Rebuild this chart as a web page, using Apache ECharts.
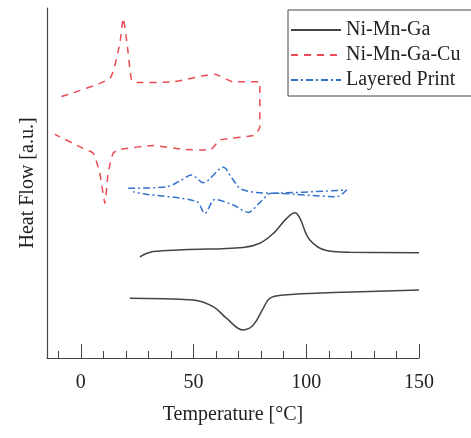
<!DOCTYPE html>
<html>
<head>
<meta charset="utf-8">
<script src="https://cdn.jsdelivr.net/npm/echarts@6/dist/echarts.min.js"></script>
<style>
  html, body { margin: 0; padding: 0; background: #fff; }
  #main { width: 471px; height: 438px; }
</style>
</head>
<body>
<div id="main"></div>
<script>
var seriesNames = ['Ni-Mn-Ga', 'Ni-Mn-Ga-Cu', 'Layered Print'];
var majorTicks = [0, 50, 100, 150];
var minorTicks = [-10, 10, 20, 30, 40, 60, 70, 80, 90, 110, 120, 130, 140];

// Ni-Mn-Ga, 两条曲线 (heating / cooling)
var niMnGaUpper = [
  [26.2, 28.9], [32.1, 30.4], [45.4, 30.9], [72, 31.6], [79.4, 32.8],
  [85.4, 35.6], [91.3, 39.9], [95, 41.5], [97.2, 39.9], [101.6, 33.7],
  [109, 30.7], [119.4, 30.2], [150, 30.1]
];
var niMnGaLower = [
  [21.7, 17.1], [49.9, 16.6], [58.7, 14.7], [64.7, 11.3], [72, 8],
  [76.5, 9.4], [80.9, 14.2], [83.9, 17.1], [89.8, 18], [112, 18.7], [150, 19.4]
];
// Ni-Mn-Ga-Cu loop
var niMnGaCu = [
  [-8.6, 74.7], [12.9, 79.9], [17.3, 89.9], [18.8, 97.1], [20.5, 89.9],
  [22.5, 79.4], [24.7, 78.7], [41, 78.9], [59.5, 81.1], [67.6, 78.9],
  [79.4, 78.9], [79.4, 66.1], [77.2, 63.7], [61.7, 62.3], [57.3, 59.4],
  [45.4, 59.6], [32.1, 60.7], [17.3, 59.6], [14.3, 58.5], [12.1, 52.8],
  [10.7, 44.2], [8.4, 52.9], [5.5, 58.5], [1, 59.9], [-11.5, 63.9]
];
// Layered Print loop
var layeredPrint = [
  [21, 48.5], [38, 48.9], [44, 50.6], [49.1, 52.3], [54.3, 50.1],
  [63.2, 54.5], [67, 51.4], [71.3, 48.2], [83.9, 47.1], [117.9, 48],
  [113.5, 46.1], [84.6, 47.1], [79.4, 44.4], [74.3, 41.6], [67.6, 43.7],
  [59.5, 45.3], [55, 41.3], [51.4, 44.7], [27.7, 46.9], [23.2, 47.5]
];

var chart = echarts.init(document.getElementById('main'));
var font = 'Liberation Serif';

var option = {
  animation: false,
  grid: { left: 47, right: 52, top: 8, bottom: 80 },
  legend: {
    data: seriesNames,
    orient: 'vertical',
    left: 288,
    top: 10,
    padding: [9, 12, 5, 2],
    itemGap: 3,
    itemWidth: 50,
    itemHeight: 14,
    borderColor: '#444',
    borderWidth: 1,
    borderRadius: 0,
    itemStyle: { opacity: 0 },
    textStyle: { fontFamily: font, fontSize: 20, color: '#222', lineHeight: 22 }
  },
  xAxis: [{
    type: 'value',
    min: -15,
    max: 150,
    name: 'Temperature [°C]',
    nameLocation: 'middle',
    nameGap: 47,
    nameTextStyle: { fontFamily: font, fontSize: 20, color: '#222' },
    axisLine: { lineStyle: { color: '#444', width: 1.2 } },
    axisTick: { inside: true, length: 14, customValues: majorTicks, lineStyle: { color: '#444' } },
    axisLabel: { customValues: majorTicks, margin: 15, fontFamily: font, fontSize: 20, color: '#222' },
    splitLine: { show: false }
  }, {
    type: 'value',
    min: -15,
    max: 150,
    position: 'bottom',
    axisLine: { show: false },
    axisTick: { inside: true, length: 7, customValues: minorTicks, lineStyle: { color: '#444' } },
    axisLabel: { show: false },
    splitLine: { show: false }
  }],
  yAxis: {
    type: 'value',
    min: 0,
    max: 100,
    name: 'Heat Flow [a.u.]',
    nameLocation: 'middle',
    nameGap: 9,
    nameTextStyle: { fontFamily: font, fontSize: 20, color: '#222' },
    axisLine: { show: true, onZero: false, lineStyle: { color: '#444', width: 1.2 } },
    axisTick: { show: false },
    axisLabel: { show: false },
    splitLine: { show: false }
  },
  series: [{
    name: 'Ni-Mn-Ga',
    type: 'line',
    symbol: 'none',
    smooth: 0.4,
    data: niMnGaUpper,
    lineStyle: { color: '#444', width: 1.5, type: 'solid' },
    itemStyle: { color: '#444' }
  }, {
    name: 'Ni-Mn-Ga-Cu',
    type: 'line',
    symbol: 'none',
    smooth: 0.15,
    data: niMnGaCu,
    lineStyle: { color: '#ec4b55', width: 1.5, type: [7, 6] },
    itemStyle: { color: '#ec4b55' }
  }, {
    name: 'Layered Print',
    type: 'line',
    symbol: 'none',
    smooth: 0.3,
    data: layeredPrint,
    lineStyle: { color: '#3573cc', width: 1.5, type: [7, 3, 2, 3] },
    itemStyle: { color: '#3573cc' }
  }, {
    name: 'Ni-Mn-Ga',
    type: 'line',
    symbol: 'none',
    smooth: 0.4,
    data: niMnGaLower,
    lineStyle: { color: '#444', width: 1.5, type: 'solid' },
    itemStyle: { color: '#444' }
  }]
};
chart.setOption(option);
</script>
</body>
</html>
